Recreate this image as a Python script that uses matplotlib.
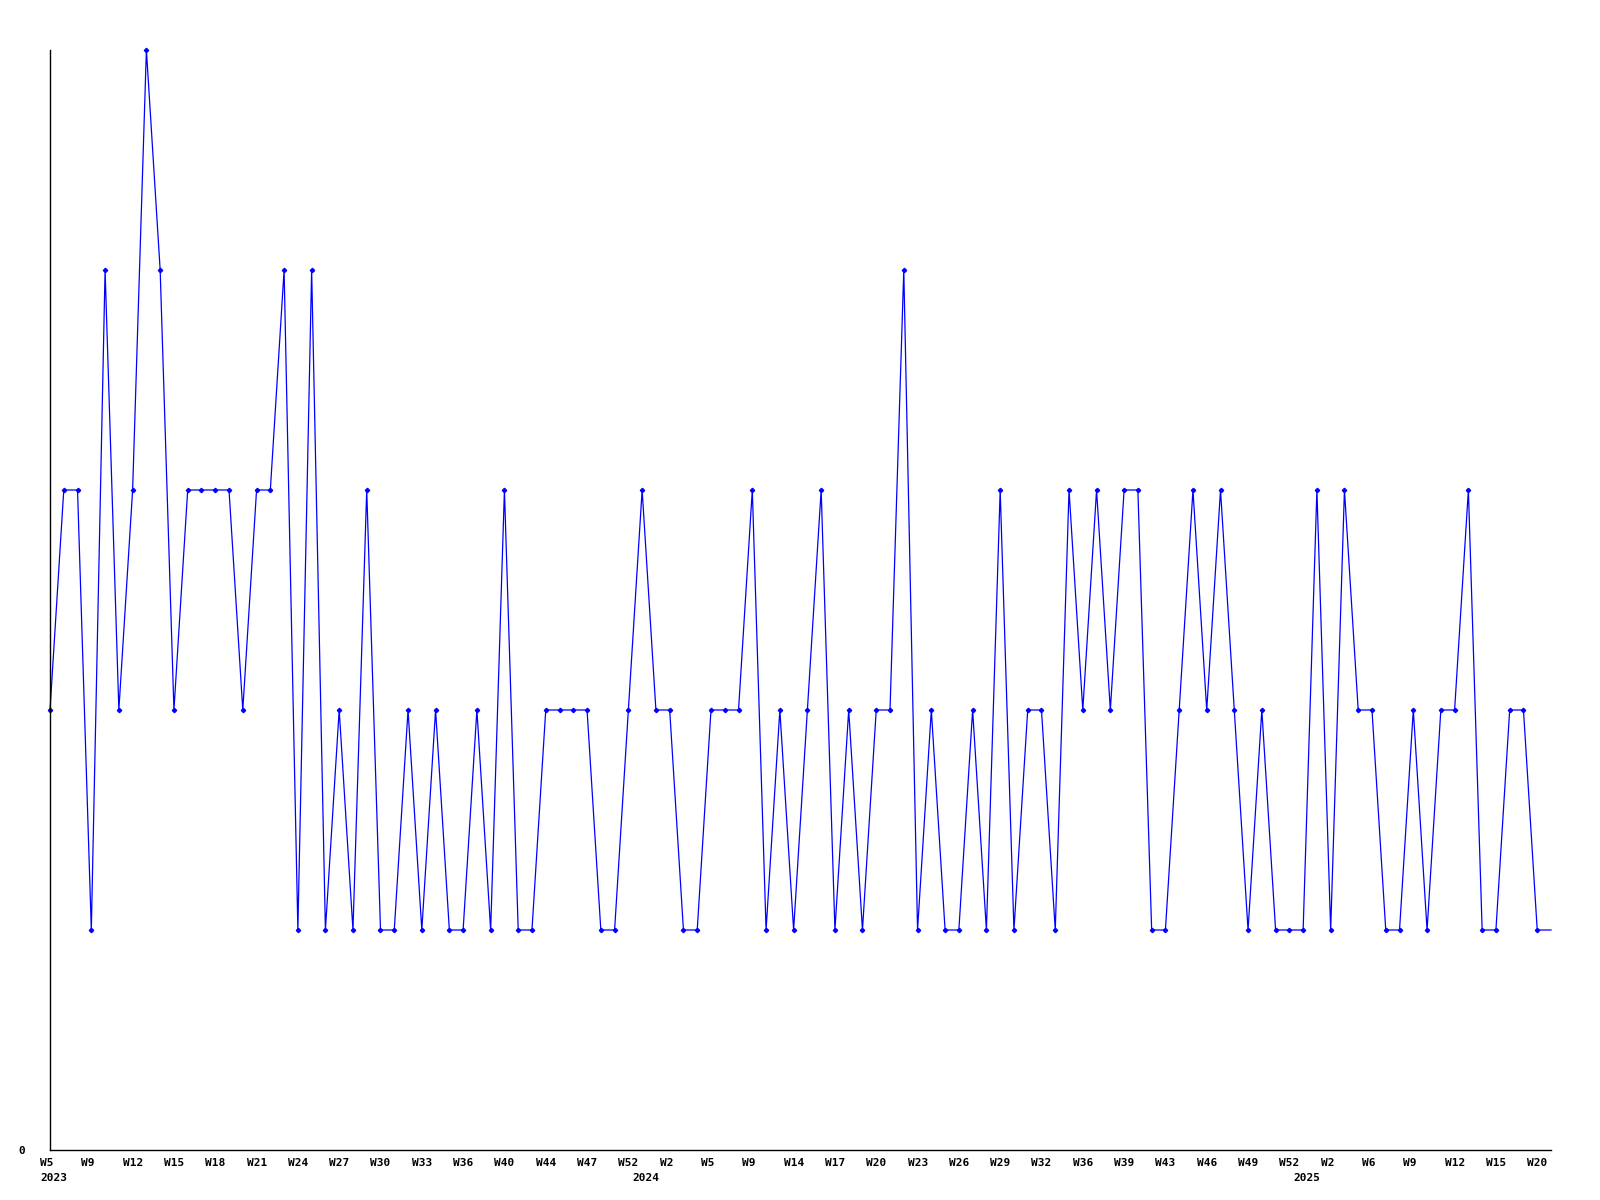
import matplotlib
matplotlib.use('Agg')
import matplotlib.pyplot as plt
import matplotlib.transforms as mtransforms
import numpy as np

# weekly values, oldest first (last point is the running week, drawn without marker)
values = [2, 3, 3, 1, 4, 2, 3, 5, 4, 2,
          3, 3, 3, 3, 2, 3, 3, 4, 1, 4,
          1, 2, 1, 3, 1, 1, 2, 1, 2, 1,
          1, 2, 1, 3, 1, 1, 2, 2, 2, 2,
          1, 1, 2, 3, 2, 2, 1, 1, 2, 2,
          2, 3, 1, 2, 1, 2, 3, 1, 2, 1,
          2, 2, 4, 1, 2, 1, 1, 2, 1, 3,
          1, 2, 2, 1, 3, 2, 3, 2, 3, 3,
          1, 1, 2, 3, 2, 3, 2, 1, 2, 1,
          1, 1, 3, 1, 3, 2, 2, 1, 1, 2,
          1, 2, 2, 3, 1, 1, 2, 2, 1, 1]

week_labels = ['W5', 'W9', 'W12', 'W15', 'W18', 'W21', 'W24', 'W27', 'W30', 'W33',
               'W36', 'W40', 'W44', 'W47', 'W52', 'W2', 'W5', 'W9', 'W14', 'W17',
               'W20', 'W23', 'W26', 'W29', 'W32', 'W36', 'W39', 'W43', 'W46', 'W49',
               'W52', 'W2', 'W6', 'W9', 'W12', 'W15', 'W20']
label_step = 3

years = ['2023', '2024', '2025']
year_pos = [0, 43, 91]

FONT = 'DejaVu Sans Mono'

x = np.arange(len(values))

fig = plt.figure(figsize=(16, 12), dpi=100)
ax = fig.add_axes([50/1600, 50/1200, 1501/1600, 1100/1200])

ax.plot(x, values, color='#0000ff', lw=0.9, marker='D', ms=2.2, clip_on=False,
        markevery=list(range(len(values) - 1)))

ax.set_xlim(0, len(values) - 1)
ax.set_ylim(0, 5)

for s in ['top', 'right']:
    ax.spines[s].set_visible(False)
for s in ['left', 'bottom']:
    ax.spines[s].set_linewidth(1)
    ax.spines[s].set_color('black')

# y axis: only the zero label
ax.set_yticks([0], ['0'], family=FONT, fontweight='bold', fontsize=8)
ax.tick_params(axis='y', length=0, pad=18)

# x axis: week labels every third point, left aligned a bit before the point
ax.set_xticks(x[::label_step][:len(week_labels)], week_labels,
              family=FONT, fontweight='bold', fontsize=8, ha='left')
ax.tick_params(axis='x', length=0, pad=6)
offset = mtransforms.ScaledTranslation(-10/100, 0, fig.dpi_scale_trans)
for lbl in ax.get_xticklabels():
    lbl.set_transform(lbl.get_transform() + offset)

# year labels under the first week of each year
for yr, pos in zip(years, year_pos):
    ax.annotate(yr, xy=(pos, 0), xycoords=('data', 'axes fraction'),
                xytext=(-10, -23), textcoords='offset pixels',
                ha='left', va='top', family=FONT, fontweight='bold', fontsize=8)

fig.savefig('out.png', dpi=100, facecolor='white')
